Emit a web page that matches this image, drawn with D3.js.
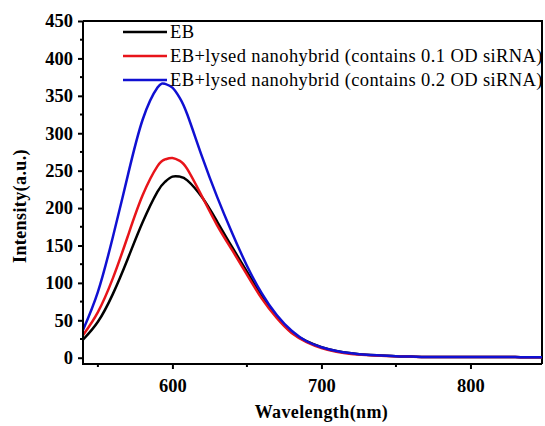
<!DOCTYPE html>
<html>
<head>
<meta charset="utf-8">
<script src="https://cdn.jsdelivr.net/npm/d3@7"></script>
<style>
    body { margin: 0; background: #fff; }
    svg { display: block; }
    .tick-label { font-family: "Liberation Serif", "Times New Roman", serif; font-weight: bold; font-size: 18.5px; }
    .axis-label { font-family: "Liberation Serif", "Times New Roman", serif; font-weight: bold; font-size: 18px; letter-spacing: 0.4px; }
    .legend-text { font-family: "Liberation Serif", "Times New Roman", serif; font-size: 18.5px; letter-spacing: 0.4px; }
</style>
</head>
<body>
<div id="chart"></div>
<script>
// wavelengths (nm)
const wavelengths = [540, 550, 560, 570, 580, 590, 595, 600, 605, 610, 620, 630, 640, 650, 660, 670, 680, 690,
    700, 710, 720, 730, 740, 750, 760, 770, 780, 790, 800, 810, 820, 830, 840, 850];

// intensities (a.u.)
const ebValues = [24, 48, 85, 132, 181, 222, 235, 242, 242, 237, 214, 182, 148, 115, 82, 55, 34, 22,
    14, 9, 6, 4, 3, 2, 1.5, 1, 1, 1, 1, 1, 0.8, 0.8, 0.6, 0.5];
const od01Values = [30, 61, 106, 162, 217, 256, 265, 267, 263, 252, 215, 177, 144, 111, 79, 53, 33, 21,
    13, 8, 5, 3.5, 2.5, 2, 1.5, 1, 1, 1, 1, 1, 0.8, 0.8, 0.6, 0.5];
const od02Values = [37, 88, 161, 243, 318, 361, 366, 361, 347, 325, 268, 215, 167, 123, 86, 57, 36, 22,
    14, 9, 6, 4, 3, 2, 1.5, 1, 1, 1, 1, 1, 0.8, 0.8, 0.6, 0.5];

const seriesNames = ["EB",
    "EB+lysed nanohybrid (contains 0.1 OD siRNA)",
    "EB+lysed nanohybrid (contains 0.2 OD siRNA)"];
const seriesValues = [ebValues, od01Values, od02Values];
const colors = ["#000000", "#e8141a", "#1010d2"];

const yTicks = [0, 50, 100, 150, 200, 250, 300, 350, 400, 450];
const xTicks = [600, 700, 800];

let margin = {top: 21, right: 3, bottom: 62, left: 83};
let width = 545 - margin.left - margin.right;
let height = 426 - margin.top - margin.bottom;

let svg = d3.select("#chart").append("svg")
    .attr("width", 545)
    .attr("height", 426)
    .append("g")
    .attr("transform", "translate(" + margin.left + "," + margin.top + ")");

let x = d3.scaleLinear()
    .domain([540, 848])
    .range([0, width]);

let y = d3.scaleLinear()
    .domain([-8.4, 450])
    .range([height, 0]);

// frame (top + right)
svg.append("path")
    .attr("d", "M0,0H" + width + "V" + height)
    .attr("fill", "none")
    .attr("stroke", "#000")
    .attr("stroke-width", 2);

// curves
let line = d3.line()
    .x((d, i) => x(wavelengths[i]))
    .y(d => y(d))
    .curve(d3.curveNatural);

svg.append("defs").append("clipPath")
    .attr("id", "clip")
    .append("rect")
    .attr("width", width)
    .attr("height", height);

svg.selectAll(".curve")
    .data(seriesValues)
    .enter()
    .append("path")
    .attr("class", "curve")
    .attr("clip-path", "url(#clip)")
    .attr("d", d => line(d))
    .attr("fill", "none")
    .attr("stroke", (d, i) => colors[i])
    .attr("stroke-width", 2.5);

// y axis
let yMinor = d3.range(25, 450, 50);
let yAxis = d3.axisLeft(y).tickValues(yTicks).tickSize(5).tickPadding(5);
let gy = svg.append("g").call(yAxis);
gy.select(".domain").remove();
gy.selectAll(".tick line").attr("stroke-width", 2);
gy.selectAll(".tick text").attr("class", "tick-label").attr("fill", "#000");
svg.append("g").selectAll("line")
    .data(yMinor)
    .enter()
    .append("line")
    .attr("x1", -3).attr("x2", 0)
    .attr("y1", d => y(d)).attr("y2", d => y(d))
    .attr("stroke", "#000").attr("stroke-width", 2);

// x axis
let xMinor = [550, 650, 750];
let xAxis = d3.axisBottom(x).tickValues(xTicks).tickSize(5).tickPadding(10);
let gx = svg.append("g").attr("transform", "translate(0," + height + ")").call(xAxis);
gx.select(".domain").remove();
gx.selectAll(".tick line").attr("stroke-width", 2);
gx.selectAll(".tick text").attr("class", "tick-label").attr("fill", "#000");
svg.append("g").selectAll("line")
    .data(xMinor)
    .enter()
    .append("line")
    .attr("x1", d => x(d)).attr("x2", d => x(d))
    .attr("y1", height).attr("y2", height + 3)
    .attr("stroke", "#000").attr("stroke-width", 2);

// axis lines
svg.append("path")
    .attr("d", "M0,0V" + height + "H" + width)
    .attr("fill", "none")
    .attr("stroke", "#000")
    .attr("stroke-width", 2);

// labels
svg.append("text")
    .attr("class", "axis-label")
    .attr("text-anchor", "middle")
    .attr("x", x(700))
    .attr("y", height + 54)
    .text("Wavelength(nm)");

svg.append("text")
    .attr("class", "axis-label")
    .attr("text-anchor", "middle")
    .attr("transform", "translate(" + (26 - margin.left) + "," + (206 - margin.top) + ") rotate(-90)")
    .text("Intensity(a.u.)");

// legend
let legend = svg.selectAll(".legend")
    .data(seriesNames)
    .enter()
    .append("g")
    .attr("class", "legend")
    .attr("transform", (d, i) => "translate(" + (123 - margin.left) + "," + (32 + i * 24 - margin.top) + ")");

legend.append("line")
    .attr("x1", 0).attr("x2", 44)
    .attr("stroke", (d, i) => colors[i])
    .attr("stroke-width", 2.5);

legend.append("text")
    .attr("class", "legend-text")
    .attr("x", 47)
    .attr("y", 5.5)
    .text(d => d);
</script>
</body>
</html>
